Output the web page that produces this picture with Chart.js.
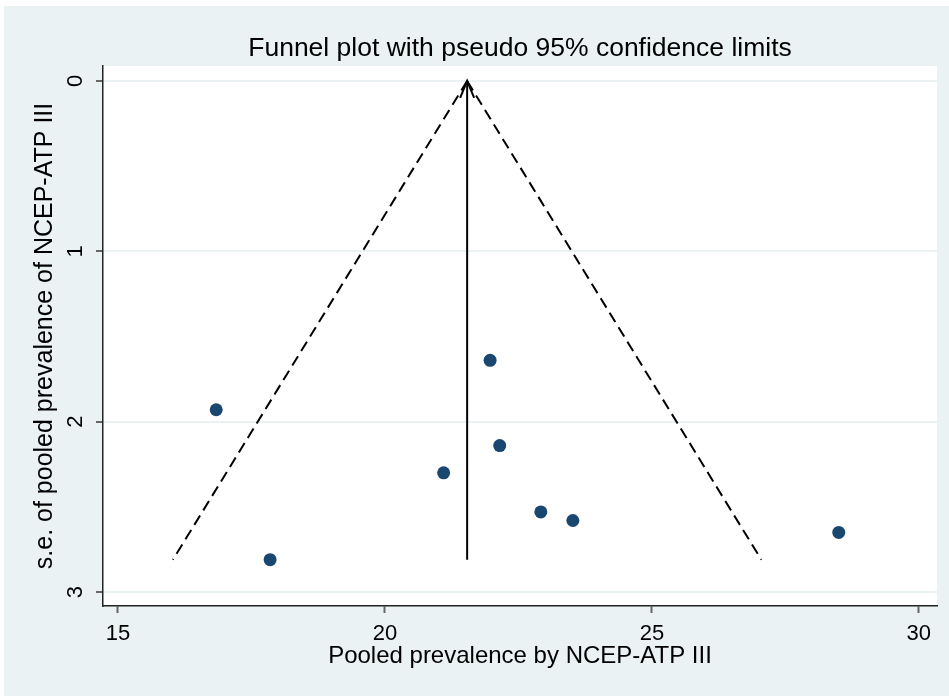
<!DOCTYPE html>
<html>
<head>
<meta charset="utf-8">
<script src="https://cdn.jsdelivr.net/npm/chart.js@4"></script>
<style>
  html, body { margin: 0; padding: 0; background: #ffffff; }
  #wrap { position: absolute; left: 4px; top: 6px; width: 945px; height: 690px; }
</style>
</head>
<body>
<div id="wrap"><canvas id="funnel"></canvas></div>
<script>
// study estimates
const studyPrev = [16.84, 17.85, 21.10, 21.97, 22.15, 22.92, 23.52, 28.50];
const studySe   = [1.93, 2.81, 2.30, 1.64, 2.14, 2.53, 2.58, 2.65];

// pooled estimate line and pseudo 95% limits
const pooledX = [21.54, 21.54];
const lineSe  = [0, 2.81];
const lowerX  = [21.54, 16.03];
const upperX  = [21.54, 27.05];

const xTicks = [15, 20, 25, 30];
const yTicks = [0, 1, 2, 3];

const navy = '#1a476f';
const panel = '#eaf2f3';
const family = '"Liberation Sans", Arial, sans-serif';

const pts = (xs, ys) => xs.map((x, i) => ({ x: x, y: ys[i] }));

// light blue-gray graph region behind the white plot region
const bgPlugin = {
  id: 'bg',
  beforeDraw(chart) {
    const { ctx, chartArea: a } = chart;
    ctx.save();
    ctx.fillStyle = panel;
    ctx.fillRect(0, 0, chart.width, chart.height);
    ctx.fillStyle = '#ffffff';
    ctx.fillRect(a.left, a.top, a.right - a.left, a.bottom - a.top);
    ctx.restore();
  }
};

// title centred over the plot region, plus the arrow head on the pooled line
const extrasPlugin = {
  id: 'extras',
  afterDraw(chart) {
    const { ctx, chartArea: a } = chart;
    ctx.save();
    ctx.fillStyle = '#000';
    ctx.font = '26.5px ' + family;
    ctx.textAlign = 'center';
    ctx.textBaseline = 'alphabetic';
    ctx.fillText('Funnel plot with pseudo 95% confidence limits', (a.left + a.right) / 2, 50);

    const tip = chart.getDatasetMeta(1).data[0];
    ctx.strokeStyle = '#000';
    ctx.lineWidth = 2;
    ctx.beginPath();
    ctx.moveTo(tip.x - 7, tip.y + 17);
    ctx.lineTo(tip.x, tip.y);
    ctx.lineTo(tip.x + 7, tip.y + 17);
    ctx.stroke();
    ctx.restore();
  }
};

new Chart(document.getElementById('funnel'), {
  type: 'scatter',
  data: {
    datasets: [
      {
        label: 'studies',
        data: pts(studyPrev, studySe),
        backgroundColor: navy,
        borderColor: navy,
        pointRadius: 6.5,
        borderWidth: 0
      },
      {
        label: 'pooled',
        data: pts(pooledX, lineSe),
        showLine: true,
        borderColor: '#000',
        borderWidth: 2,
        pointRadius: 0
      },
      {
        label: 'lower',
        data: pts(lowerX, lineSe),
        showLine: true,
        borderColor: '#000',
        borderWidth: 2,
        borderDash: [11, 6],
        pointRadius: 0
      },
      {
        label: 'upper',
        data: pts(upperX, lineSe),
        showLine: true,
        borderColor: '#000',
        borderWidth: 2,
        borderDash: [11, 6],
        pointRadius: 0
      }
    ]
  },
  options: {
    responsive: true,
    maintainAspectRatio: false,
    animation: false,
    layout: { padding: { top: 60, right: 12, left: 0, bottom: 0 } },
    plugins: {
      legend: { display: false },
      tooltip: { enabled: false }
    },
    scales: {
      x: {
        type: 'linear',
        min: 14.72,
        max: 30.34,
        afterFit: s => { s.height = 90; },
        afterBuildTicks: s => { s.ticks = xTicks.map(v => ({ value: v })); },
        grid: {
          drawOnChartArea: false,
          drawTicks: true,
          tickLength: 7,
          tickColor: '#666',
          tickWidth: 2
        },
        border: { display: true, color: '#222', width: 1.5 },
        ticks: {
          color: '#000',
          padding: 8,
          font: { family: family, size: 22 },
          maxRotation: 0
        },
        title: {
          display: true,
          text: 'Pooled prevalence by NCEP-ATP III',
          color: '#000',
          font: { family: family, size: 24 },
          padding: { top: 0, bottom: 25 }
        }
      },
      y: {
        type: 'linear',
        reverse: true,
        min: -0.088,
        max: 3.082,
        afterFit: s => { s.width = 99; },
        afterBuildTicks: s => { s.ticks = yTicks.map(v => ({ value: v })); },
        grid: {
          color: panel,
          lineWidth: 2,
          drawTicks: true,
          tickLength: 7,
          tickColor: '#666',
          tickWidth: 2
        },
        border: { display: true, color: '#222', width: 1.5 },
        ticks: {
          color: '#000',
          padding: 14,
          crossAlign: 'center',
          minRotation: 90,
          maxRotation: 90,
          font: { family: family, size: 22 }
        },
        title: {
          display: true,
          text: 's.e. of pooled prevalence of NCEP-ATP III',
          color: '#000',
          font: { family: family, size: 25 },
          padding: { top: 26, bottom: 0 }
        }
      }
    }
  },
  plugins: [bgPlugin, extrasPlugin]
});
</script>
</body>
</html>
